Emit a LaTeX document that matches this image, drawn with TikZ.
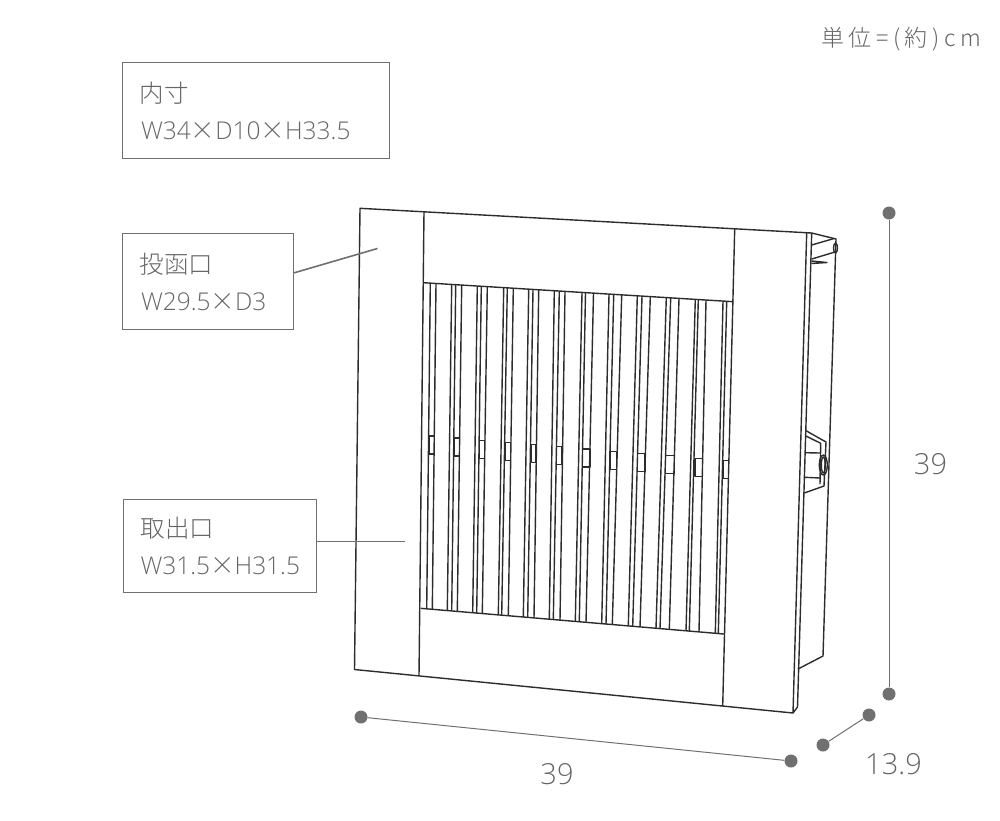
\documentclass[tikz,border=0pt]{standalone}
\usepackage{fontspec}
\setmainfont{Open Sans Light}
\newfontfamily\jpfont{Noto Sans CJK JP Light}
\definecolor{txtgray}{HTML}{656565}
\definecolor{boxgray}{HTML}{707070}
\definecolor{linedark}{HTML}{2C2C2C}
\tikzset{
	labelbox/.style={draw=boxgray, line width=1.2pt, anchor=north west, align=left, outer sep=0pt, inner xsep=17pt, inner ysep=0pt, text=txtgray, font=\fontsize{24.5}{37}\selectfont},
	leader/.style={draw=boxgray, line width=1.6pt},
	dimline/.style={draw=boxgray, line width=1pt},
	dimdot/.style={circle, fill=boxgray, inner sep=0pt, minimum size=13pt},
	dimtext/.style={text=txtgray, font=\fontsize{29}{29}\selectfont, inner sep=0pt},
	trait/.style={draw=linedark, line width=1.4pt, line join=round},
}
\newcommand{\espU}{\hspace{4.5pt}}
\begin{document}
\begin{tikzpicture}[x=1pt,y=-1pt]
	\useasboundingbox (0,0) rectangle (1000,820);
	% le cadre
	\draw[trait] (360,208.3) -- (811.7,233) -- (797.5,707) -- (793,713) -- (354.5,669.5) -- cycle;
	\draw[trait] (806.7,232.7) -- (793,713);
	\draw[trait] (424,211.5) -- (419,675.7);
	\draw[trait] (734.7,229) -- (722.7,706);
	\draw[trait] (423.3,282.7) -- (733.4,301.7);
	\draw[trait] (420.7,608.3) -- (724,634);
	% les lames
	\foreach \xa/\xb in {430.3/426.7,436/432.3,451.7/447.3,455.7/451.7,461.7/457.3,477.3/472.7,481.3/476.7,487.3/482.3,503.7/498.3,507.3/501.7,513.3/508.3,528.7/523.3,533/527.7,538.7/534,554.3/549.3,559.3/553.3,565/560,582/575.3,585.5/579.3,593.5/586,609/601.7,613.7/606,621.7/612.3,637.3/628.3,642/632.7,650.3/640,666.3/656,670.7/660,679/669.3,695.3/686,698.3/689.3,706/699,723/715.3,726.7/718.3}
		\draw[trait] (\xa,{282.7+0.0613*(\xa-423.3)}) -- (\xb,{608.3+0.0847*(\xb-420.7)});
	% les petits loquets
	\foreach \xl/\xr/\yl in {429/434.3/436,454/459.3/438,479.7/484.7/440.3,505.7/510.7/442.7,531.3/536/444.7,556.7/562/446.7,582.7/590/449,610/616.7/451.3,637.7/645/453.3,665.7/674.3/455.7,695/702.3/458.3,723/728.3/460.3}
		\draw[trait] (\xl,\yl) rectangle (\xr,\yl+18);
	% le caisson
	\draw[trait] (811.7,233) -- (836,239) -- (823,656) -- (798,669);
	\draw[trait] (811.7,245) -- (834,238.5);
	\draw[trait] (811.7,259) -- (835,252);
	\draw[trait] (835.5,248) ellipse (2 and 5);
	\draw[trait] (811.7,261) -- (827,262.5) -- (811.5,263.5);
	% la serrure
	\draw[trait] (806,430.7) -- (826,442) -- (824,486) -- (804.3,493);
	\draw[trait] (806,436) -- (820.7,443.3) -- (820,484);
	\draw[trait] (805.3,452.7) -- (820,453);
	\draw[trait] (804.7,477.3) -- (820,478);
	\draw[trait] (823.3,465) ellipse (4 and 10);
	\draw[trait] (823.3,465) ellipse (2 and 8);
	% les etiquettes
	\node[labelbox, text width=233pt, minimum height=96pt] (boxInt) at (122.5,62.5) {{\jpfont 内寸}\\\hspace*{1.5pt}W34{\jpfont ×}D10{\jpfont ×}H33.5};
	\node[labelbox, text width=137pt, minimum height=96pt] (boxDepot) at (122.5,233.5) {{\jpfont 投函口}\\\hspace*{1.5pt}W29.5{\jpfont ×}D3};
	\node[labelbox, text width=159pt, minimum height=93pt] (boxRetrait) at (123.5,499.5) {{\jpfont 取出口}\\W31.5{\jpfont ×}H31.5};
	\coordinate (finDepot) at (377.5,248.5);
	\coordinate (finRetrait) at (405,541.5);
	\draw[leader] (boxDepot.east) ++(0,-8.5) coordinate (debDepot) (debDepot) -- (finDepot);
	\draw[leader] (boxRetrait.east) ++(0,-4.5) coordinate (debRetrait) (debRetrait) -- (finRetrait);
	\node[text=txtgray, font=\fontsize{23}{23}\selectfont, anchor=east, inner sep=0pt] (unite) at (981,39) {\jpfont 単\espU 位\espU =\espU (\espU 約\espU )\espU c\espU m};
	% les cotes
	\node[dimdot] (hautA) at (889,213) {};
	\node[dimdot] (hautB) at (889,694) {};
	\node[dimdot] (largA) at (361,717) {};
	\node[dimdot] (largB) at (791,761) {};
	\node[dimdot] (profA) at (823,745) {};
	\node[dimdot] (profB) at (869,715) {};
	\draw[dimline] (hautA) -- (hautB);
	\draw[dimline] (largA) -- (largB);
	\draw[dimline] (profA) -- (profB);
	\node[dimtext] (coteH) at (930.5,464) {39};
	\node[dimtext] (coteL) at (557,774) {39};
	\node[dimtext] (coteP) at (893.5,764) {13.9};
\end{tikzpicture}
\end{document}
